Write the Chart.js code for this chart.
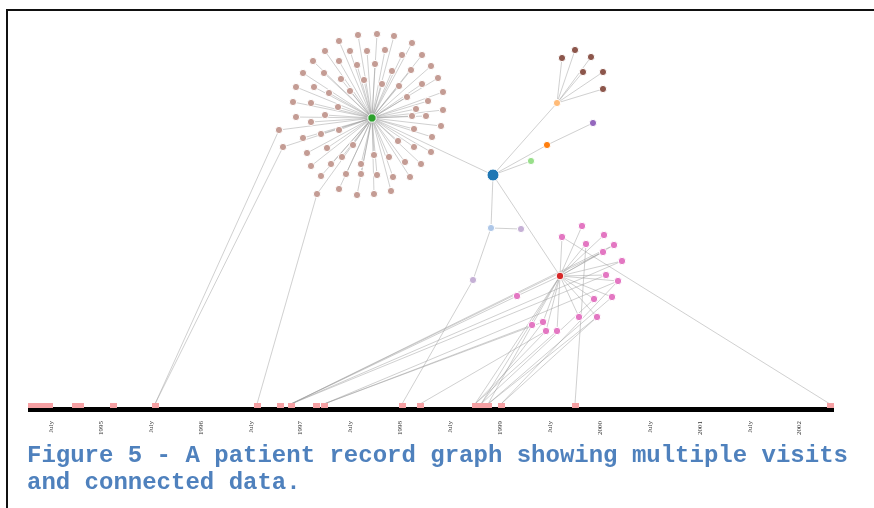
<!DOCTYPE html>
<html>
<head>
<meta charset="utf-8">
<script src="https://cdn.jsdelivr.net/npm/chart.js"></script>
<style>
html, body { margin: 0; padding: 0; background: #fff; }
#wrap { position: relative; width: 874px; height: 508px; overflow: hidden; }
#frame { position: absolute; left: 6px; top: 9px; width: 900px; height: 520px;
         border-top: 2px solid #111; border-left: 2px solid #111; }
#graph { position: absolute; left: 0; top: 0; }
#caption { position: absolute; left: 27px; top: 442px; margin: 0;
           font: bold 24px "Liberation Mono", "Courier New", monospace;
           line-height: 27px; color: #4f81bd; white-space: pre; }
</style>
</head>
<body>
<div id="wrap">
  <div id="frame"></div>
  <canvas id="graph" width="874" height="508"></canvas>
  <p id="caption">Figure 5 - A patient record graph showing multiple visits
and connected data.</p>
</div>
<script>
// layout positions (as drawn) of the graph nodes
var hubNode = [372, 118];
var tanNodes = [
  [358,35],[377,34],[394,36],[339,41],[412,43],[325,51],[350,51],[367,51],[385,50],[402,55],
  [422,55],[313,61],[339,61],[357,65],[375,64],[392,71],[411,70],[431,66],[303,73],[324,73],
  [341,79],[364,80],[382,84],[399,86],[422,84],[438,78],[296,87],[314,87],[329,93],[350,91],
  [407,97],[428,101],[443,92],[293,102],[311,103],[338,107],[416,109],[443,110],[296,117],[311,122],
  [325,115],[412,116],[426,116],[441,126],[279,130],[303,138],[321,134],[339,130],[414,129],[432,137],
  [283,147],[307,153],[327,148],[353,145],[398,141],[414,147],[431,152],[311,166],[331,164],[342,157],
  [361,164],[374,155],[389,157],[405,162],[421,164],[321,176],[346,174],[361,174],[377,175],[393,177],
  [410,177],[317,194],[339,189],[357,195],[374,194],[391,191]
];
var blueNode = [493, 175];
var lightOrangeNode = [557, 103];
var brownNodes = [[562,58],[575,50],[591,57],[583,72],[603,72],[603,89]];
var orangeNode = [547, 145];
var lightGreenNode = [531, 161];
var purpleNode = [593, 123];
var lightBlueNode = [491, 228];
var lavenderNodes = [[521,229],[473,280]];
var redNode = [560, 276];
var pinkNodes = [
  [582,226],[562,237],[604,235],[586,244],[614,245],[603,252],[622,261],[606,275],[618,281],
  [594,299],[612,297],[517,296],[579,317],[597,317],[532,325],[543,322],[546,331],[557,331]
];

// visits on the timeline and the nodes they link to
var visitX = [31,35,39,45,49,75,80,113,155,257,280,291,316,324,402,420,475,481,488,501,575,830];
var visitY = 405;
var visitLinks = [
  [155, tanNodes[44]], [155, tanNodes[50]], [257, tanNodes[71]],
  [291, pinkNodes[11]], [291, pinkNodes[5]], [291, pinkNodes[6]], [291, pinkNodes[4]], [291, pinkNodes[7]],
  [324, pinkNodes[14]], [324, pinkNodes[15]], [324, pinkNodes[8]],
  [402, lavenderNodes[1]], [420, pinkNodes[16]],
  [475, redNode], [475, pinkNodes[16]], [475, pinkNodes[17]],
  [481, redNode], [481, pinkNodes[15]], [481, pinkNodes[9]],
  [488, pinkNodes[14]], [488, pinkNodes[10]], [488, pinkNodes[13]],
  [501, pinkNodes[13]], [501, pinkNodes[8]],
  [575, pinkNodes[3]], [830, pinkNodes[1]]
];

// timeline
var timelineStart = 28, timelineEnd = 834;
var yearPixel1995 = 101, pixelsPerYear = 99.8;
var firstLabel = 1994.5, lastLabel = 2002;

function pt(p) { return { x: p[0], y: p[1] }; }

var edgePairs = [];
tanNodes.forEach(function (n) { edgePairs.push([n, hubNode]); });
edgePairs.push([hubNode, blueNode]);
brownNodes.forEach(function (n) { edgePairs.push([n, lightOrangeNode]); });
edgePairs.push([blueNode, lightOrangeNode], [blueNode, lightGreenNode], [blueNode, orangeNode],
               [orangeNode, purpleNode], [blueNode, lightBlueNode], [lightBlueNode, lavenderNodes[0]],
               [lightBlueNode, lavenderNodes[1]], [blueNode, redNode]);
pinkNodes.forEach(function (n) { edgePairs.push([n, redNode]); });
visitLinks.forEach(function (l) { edgePairs.push([[l[0], visitY - 1], l[1]]); });

var edgeData = [];
edgePairs.forEach(function (e) {
  edgeData.push(pt(e[0]), pt(e[1]), { x: null, y: null });
});

var visitMark = document.createElement('canvas');
visitMark.width = 7; visitMark.height = 5;
var vctx = visitMark.getContext('2d');
vctx.fillStyle = '#f5a0a3';
vctx.fillRect(0, 0, 7, 5);

function nodeSet(points, color, r, order) {
  return {
    data: points.map(pt),
    backgroundColor: color,
    borderColor: '#fff',
    borderWidth: 1,
    pointRadius: r,
    pointHoverRadius: r,
    order: order || 0
  };
}

new Chart('graph', {
  type: 'scatter',
  data: {
    datasets: [
      nodeSet(tanNodes, '#c49c94', 3.6),
      nodeSet([hubNode], '#2ca02c', 4.2),
      nodeSet([blueNode], '#1f77b4', 6),
      nodeSet([lightOrangeNode], '#ffbb78', 3.6),
      nodeSet(brownNodes, '#8c564b', 3.6),
      nodeSet([orangeNode], '#ff7f0e', 3.6),
      nodeSet([lightGreenNode], '#98df8a', 3.6),
      nodeSet([purpleNode], '#9467bd', 3.6),
      nodeSet([lightBlueNode], '#aec7e8', 3.6),
      nodeSet(lavenderNodes, '#c5b0d5', 3.6),
      nodeSet(pinkNodes, '#e377c2', 3.7),
      nodeSet([redNode], '#d62728', 3.8),
      {
        data: visitX.map(function (x) { return { x: x, y: visitY }; }),
        pointStyle: visitMark,
        order: 1
      },
      {
        data: [{ x: timelineStart, y: 409.5 }, { x: timelineEnd, y: 409.5 }],
        showLine: true,
        borderColor: '#000',
        borderWidth: 5,
        pointRadius: 0,
        order: 2
      },
      {
        data: edgeData,
        showLine: true,
        spanGaps: false,
        borderColor: 'rgba(150,150,150,0.45)',
        borderWidth: 1,
        pointRadius: 0,
        order: 3
      }
    ]
  },
  options: {
    responsive: false,
    animation: false,
    layout: { padding: 0, autoPadding: false },
    plugins: { legend: { display: false }, tooltip: { enabled: false } },
    scales: {
      x: { type: 'linear', min: 0, max: 874, display: false },
      y: { type: 'linear', min: 0, max: 508, reverse: true, display: false },
      xt: {
        type: 'linear',
        axis: 'x',
        position: { y: 411 },
        min: 1995 - yearPixel1995 / pixelsPerYear,
        max: 1995 + (874 - yearPixel1995) / pixelsPerYear,
        afterFit: function (scale) { scale.height = 0; },
        grid: { display: false },
        border: { display: false },
        ticks: {
          stepSize: 0.5,
          autoSkip: false,
          includeBounds: false,
          minRotation: 90,
          maxRotation: 90,
          padding: 2,
          color: '#333',
          font: { size: 7, family: 'Liberation Serif' },
          callback: function (v) {
            if (v < firstLabel - 0.1 || v > lastLabel + 0.1) return null;
            return Number.isInteger(v) ? String(v) : 'July';
          }
        }
      }
    }
  }
});
</script>
</body>
</html>
